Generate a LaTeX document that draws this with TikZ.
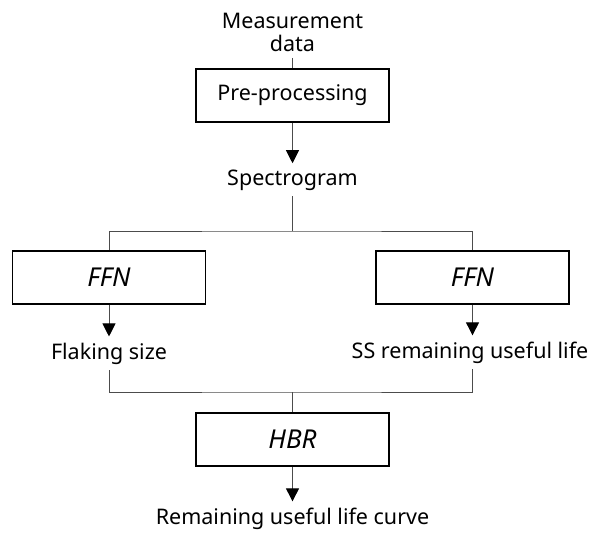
\documentclass[tikz,border=0pt]{standalone}
\usepackage{fontspec}
\setmainfont{Noto Sans}
\usetikzlibrary{arrows.meta}
\begin{document}
\begin{tikzpicture}[x=1pt, y=-1pt,
    font=\fontsize{21.5}{23}\selectfont,
    caixa/.style={draw, line width=1.6pt, minimum width=193pt, minimum height=53pt, inner sep=0pt},
    modelo/.style={caixa, font=\fontsize{26}{28}\selectfont\itshape},
    rotulo/.style={inner sep=6pt, align=center},
    linha/.style={draw=black!70, line width=0.9pt},
    seta/.style={linha, -{Triangle[width=13pt, length=13pt, black]}}]
      \useasboundingbox (0,0) rectangle (601,532);

      % Entrada e pre-processamento
      \node[rotulo, anchor=south] (meas) at (292.5,58) {Measurement\\data};
      \node[caixa] (pre) at (292.5,95.5) {Pre-processing};
      \node[rotulo, anchor=base] (spec) at (292.5,185) {Spectrogram};

      % Redes FFN
      \coordinate (split) at (292.5,231);
      \node[modelo] (ffnL) at (109,277.5) {FFN};
      \node[modelo] (ffnR) at (472.5,277.5) {FFN};
      \node[rotulo, anchor=base] (flak) at (109,359) {Flaking size};
      \node[rotulo, anchor=base] (ssrul) at (470,358) {SS remaining useful life};

      % Regressao HBR
      \coordinate (join) at (292.5,392);
      \node[modelo] (hbr) at (292.5,439.5) {HBR};
      \node[rotulo, anchor=base] (rul) at (292.5,524) {Remaining useful life curve};

      % Conexoes
      \draw[linha] (meas) -- (pre);
      \draw[seta] (pre) -- (spec);
      \draw[linha] (spec) -- (split);
      \draw[linha] (ffnL.north) |- (split) -| (ffnR.north);
      \draw[seta] (ffnL) -- (ffnL |- flak.north);
      \draw[seta] (ffnR) -- (ffnR |- ssrul.north);
      \draw[linha] (flak.south) |- (join) -| (ffnR |- ssrul.south);
      \draw[linha] (join) -- (hbr);
      \draw[seta] (hbr) -- (rul);
    \end{tikzpicture}
\end{document}
